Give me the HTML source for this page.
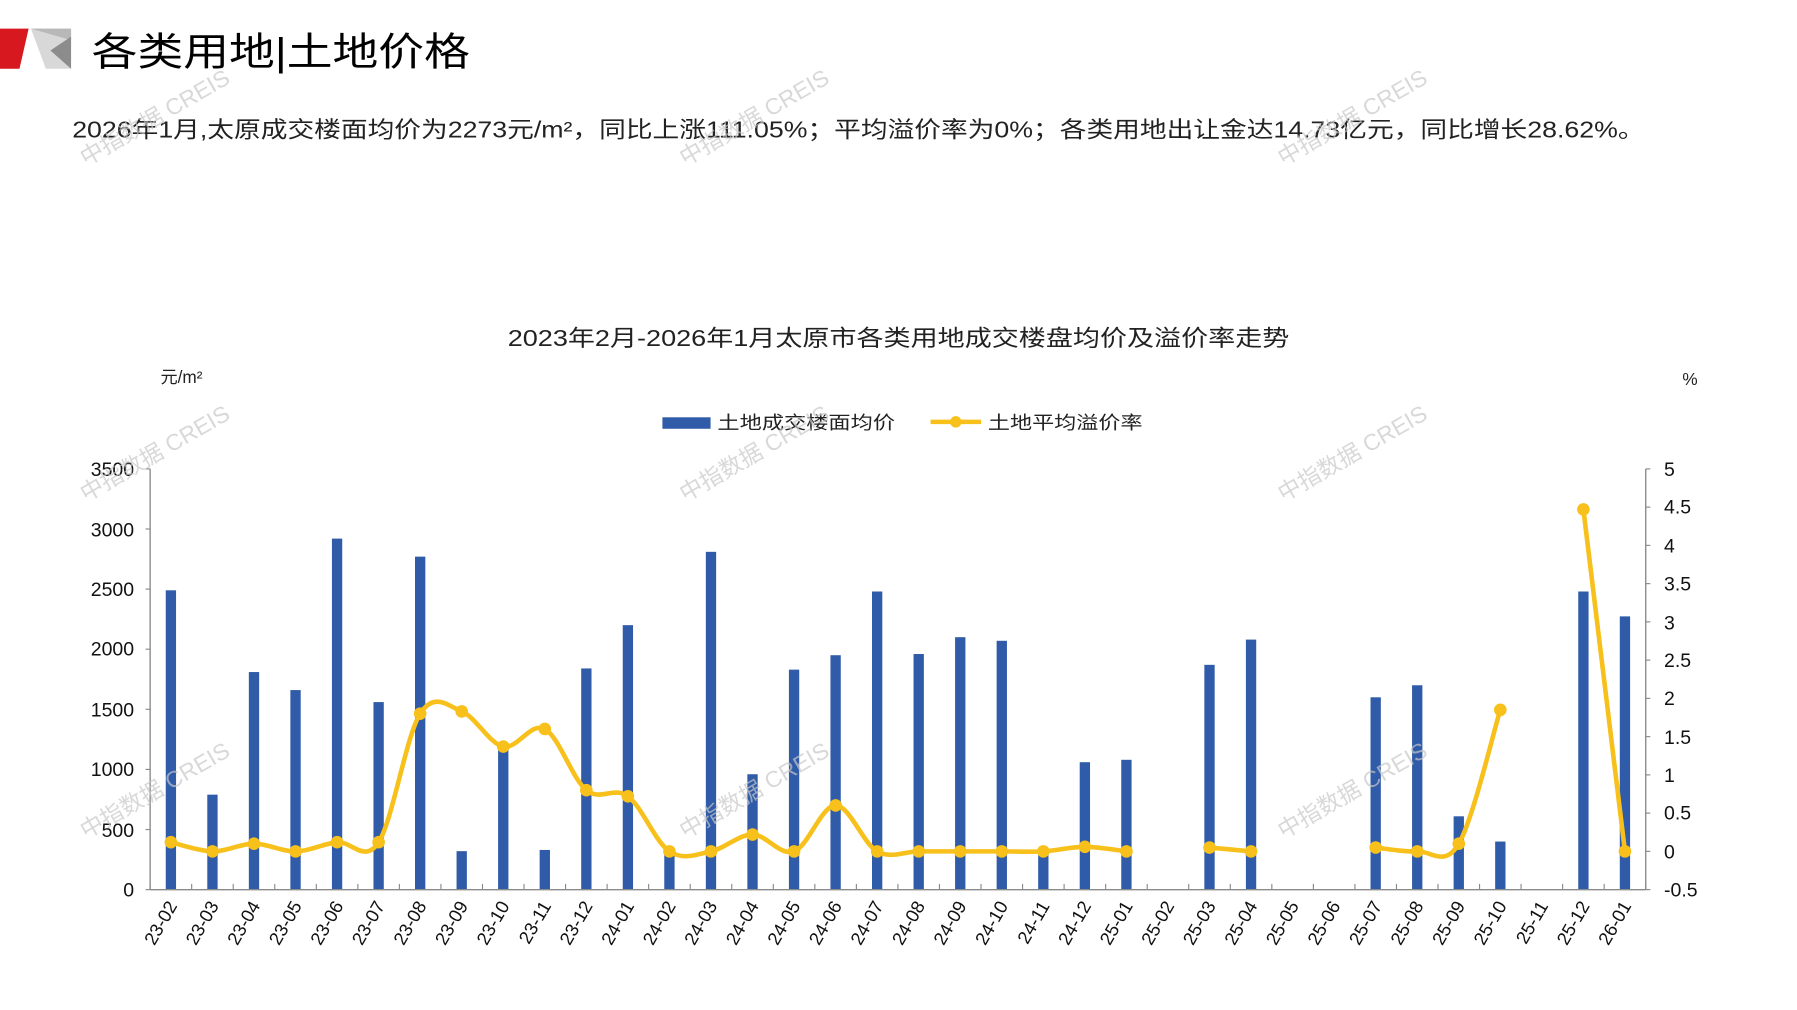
<!DOCTYPE html>
<html><head><meta charset="utf-8"><style>
html,body{margin:0;padding:0;background:#fff;}
svg{display:block;}
text{font-family:"Liberation Sans","Noto Sans CJK SC",sans-serif;}
.cn{font-family:"Liberation Sans","Noto Sans CJK SC",sans-serif;}
.wm{fill:#c8c8c8;font-size:20px;opacity:0.7;}
</style></head><body>
<svg id="s" width="1797" height="1010" viewBox="0 0 1568 881" preserveAspectRatio="none">
<polygon points="0,25 25,25 17,60 0,60" fill="#d7191f"/>
<polygon points="27,25 62,25 62,60 40,60" fill="#d8d8d8"/>
<polygon points="27,25 62,25 62,35" fill="#b8b8b8"/>
<polygon points="44,44 62,32 62,60" fill="#8c8c8c"/>
<text class="cn" x="80" y="57" font-size="34" fill="#000" textLength="330" lengthAdjust="spacingAndGlyphs">各类用地|土地价格</text>
<text class="cn" x="63" y="120" font-size="20" fill="#222" textLength="1372" lengthAdjust="spacingAndGlyphs">2026年1月,太原成交楼面均价为2273元/m²，同比上涨111.05%；平均溢价率为0%；各类用地出让金达14.73亿元，同比增长28.62%。</text>
<text class="cn" x="443" y="302" font-size="20" fill="#222" textLength="682" lengthAdjust="spacingAndGlyphs">2023年2月-2026年1月太原市各类用地成交楼盘均价及溢价率走势</text>
<text class="cn" x="140" y="334" font-size="15" fill="#222">元/m²</text>
<text x="1468" y="336" font-size="15" fill="#222">%</text>
<rect x="578" y="364" width="42" height="10" fill="#2f5ba8"/>
<text class="cn" x="626" y="374" font-size="16" fill="#222" textLength="155" lengthAdjust="spacingAndGlyphs">土地成交楼面均价</text>
<line x1="812" y1="368" x2="856" y2="368" stroke="#f7c01a" stroke-width="4"/>
<circle cx="834" cy="368" r="5" fill="#f7c01a"/>
<text class="cn" x="862" y="374" font-size="16" fill="#222" textLength="135" lengthAdjust="spacingAndGlyphs">土地平均溢价率</text>
<g font-size="17" fill="#111" text-anchor="end">
<text x="117" y="415">3500</text><text x="117" y="468">3000</text><text x="117" y="520">2500</text><text x="117" y="572">2000</text><text x="117" y="625">1500</text><text x="117" y="677">1000</text><text x="117" y="730">500</text><text x="117" y="782">0</text>
</g>
<g font-size="17" fill="#111">
<text x="1452" y="415">5</text><text x="1452" y="448">4.5</text><text x="1452" y="482">4</text><text x="1452" y="515">3.5</text><text x="1452" y="549">3</text><text x="1452" y="582">2.5</text><text x="1452" y="615">2</text><text x="1452" y="649">1.5</text><text x="1452" y="682">1</text><text x="1452" y="715">0.5</text><text x="1452" y="749">0</text><text x="1452" y="782">-0.5</text>
</g>
<g id="plot"></g>
<g id="xl" font-size="16" fill="#111" text-anchor="end">
<text>23-02</text><text>23-03</text><text>23-04</text><text>23-05</text><text>23-06</text><text>23-07</text><text>23-08</text><text>23-09</text><text>23-10</text><text>23-11</text><text>23-12</text><text>24-01</text><text>24-02</text><text>24-03</text><text>24-04</text><text>24-05</text><text>24-06</text><text>24-07</text><text>24-08</text><text>24-09</text><text>24-10</text><text>24-11</text><text>24-12</text><text>25-01</text><text>25-02</text><text>25-03</text><text>25-04</text><text>25-05</text><text>25-06</text><text>25-07</text><text>25-08</text><text>25-09</text><text>25-10</text><text>25-11</text><text>25-12</text><text>26-01</text>
</g>
<g class="wm">
<text transform="translate(75,145) rotate(-30)">中指数据 CREIS</text>
<text transform="translate(598,145) rotate(-30)">中指数据 CREIS</text>
<text transform="translate(1120,145) rotate(-30)">中指数据 CREIS</text>
<text transform="translate(75,438) rotate(-30)">中指数据 CREIS</text>
<text transform="translate(598,438) rotate(-30)">中指数据 CREIS</text>
<text transform="translate(1120,438) rotate(-30)">中指数据 CREIS</text>
<text transform="translate(75,732) rotate(-30)">中指数据 CREIS</text>
<text transform="translate(598,732) rotate(-30)">中指数据 CREIS</text>
<text transform="translate(1120,732) rotate(-30)">中指数据 CREIS</text>
</g>
</svg>
<script>
var bars=[2490,790,1810,1660,2920,1560,2770,320,1180,330,1840,2200,340,2810,960,1830,1950,2480,1960,2100,2070,300,1060,1080,0,1870,2080,0,0,1600,1700,610,400,0,2480,2273];
var rate=[0.12,0,0.1,0,0.12,0.12,1.8,1.83,1.37,1.6,0.8,0.72,0,0,0.22,0,0.6,0,0,0,0,0,0.06,0,null,0.05,0,null,null,0.05,0,0.1,1.85,null,4.47,0];
var NS="http://www.w3.org/2000/svg",g=document.getElementById('plot');
function el(t,a){var e=document.createElementNS(NS,t);for(var k in a)e.setAttribute(k,a[k]);g.appendChild(e);return e;}
var x0=131,x1=1436,yb=776,yt=409,step=(x1-x0)/36;
function cx(i){return x0+step*(i+0.5);}
function yl(v){return yb-(v/3500)*(yb-yt);}
function yr(v){return yb-((v+0.5)/5.5)*(yb-yt);}
bars.forEach(function(v,i){if(v>0)el('rect',{x:cx(i)-4.5,y:yl(v),width:9,height:yb-yl(v),fill:'#2f5ba8'});});
el('line',{x1:x0,y1:yt,x2:x0,y2:yb,stroke:'#8a8a8a','stroke-width':1.2});
el('line',{x1:x1,y1:yt,x2:x1,y2:yb,stroke:'#8a8a8a','stroke-width':1.2});
el('line',{x1:x0,y1:yb,x2:x1,y2:yb,stroke:'#8a8a8a','stroke-width':1.2});
for(var i=0;i<=36;i++)el('line',{x1:x0+step*i,y1:yb,x2:x0+step*i,y2:yb-5,stroke:'#8a8a8a'});
for(var k=0;k<=7;k++)el('line',{x1:x0-4,y1:yl(k*500),x2:x0,y2:yl(k*500),stroke:'#8a8a8a'});
for(var k=0;k<=11;k++)el('line',{x1:x1,y1:yr(k*0.5-0.5),x2:x1+4,y2:yr(k*0.5-0.5),stroke:'#8a8a8a'});
var segs=[],cur=[];
rate.forEach(function(v,i){if(v===null){if(cur.length)segs.push(cur);cur=[];}else cur.push([cx(i),yr(v)]);});
if(cur.length)segs.push(cur);
segs.forEach(function(p){
  var d='M'+p[0][0]+','+p[0][1];
  for(var i=0;i<p.length-1;i++){
    var a=p[i-1]||p[i],b=p[i],c=p[i+1],e=p[i+2]||c,t=0.17;
    d+=' C'+(b[0]+(c[0]-a[0])*t)+','+(b[1]+(c[1]-a[1])*t)+' '+(c[0]-(e[0]-b[0])*t)+','+(c[1]-(e[1]-b[1])*t)+' '+c[0]+','+c[1];
  }
  el('path',{d:d,fill:'none',stroke:'#f7c01a','stroke-width':4,'stroke-linejoin':'round'});
  p.forEach(function(q){el('circle',{cx:q[0],cy:q[1],r:5.5,fill:'#f7c01a'});});
});
var ts=document.getElementById('xl').getElementsByTagName('text');
for(var i=0;i<ts.length;i++){ts[i].setAttribute('transform','translate('+(cx(i)+6)+',790) rotate(-60)');}
</script>
</body></html>
